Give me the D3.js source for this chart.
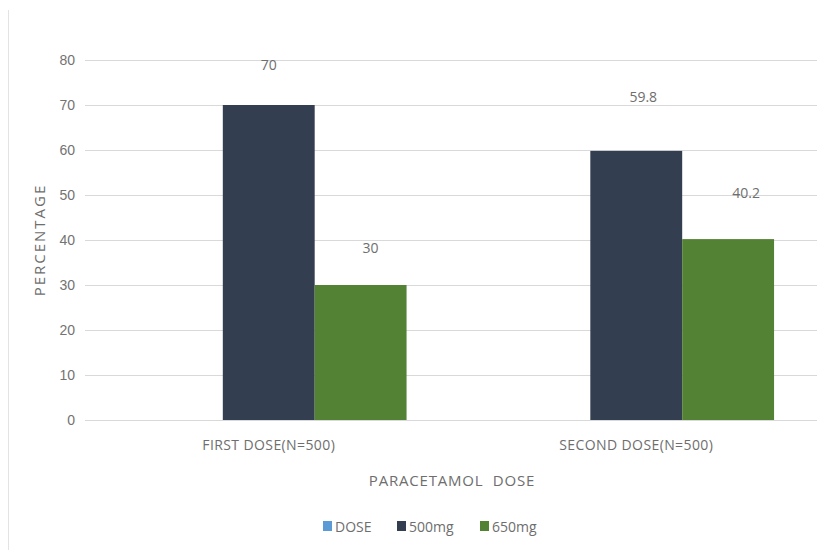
<!DOCTYPE html>
<html>
<head>
<meta charset="utf-8">
<script src="https://cdn.jsdelivr.net/npm/d3@7"></script>
<style>
    body { margin: 0; background: #fff; }
    svg { display: block; font-family: 'Open Sans', sans-serif; }
    .tick text { fill: #737373; font-size: 14px; }
    .grid line { stroke: #d9d9d9; stroke-width: 1; }
    .grid path { display: none; }
    .axisText { fill: #6e6e6e; }
</style>
</head>
<body>
<script>
'use strict';

// chart values
const categories = ['FIRST DOSE(N=500)', 'SECOND DOSE(N=500)'];
const seriesNames = ['DOSE', '500mg', '650mg'];
const dose = [0, 0];            // empty series, only shows in the legend
const dose500 = [70, 59.8];
const dose650 = [30, 40.2];
const yTicks = [0, 10, 20, 30, 40, 50, 60, 70, 80];

const colors = { 'DOSE': '#5b9bd5', '500mg': '#333f50', '650mg': '#548235' };

// label nudges (excel placed these by hand), [dx, dy] from bar top centre
const labelShift = {
    '500mg': [[0, -40], [7, -54]],
    '650mg': [[10, -37], [18, -46]]
};

function draw() {
    const width = 817, height = 550;
    const plot = { left: 85, right: 820, top: 60, bottom: 420 };

    const svg = d3.select('body').append('svg')
        .attr('width', width)
        .attr('height', height);

    // faint frame edge on the left
    svg.append('line')
        .attr('x1', 8.5).attr('x2', 8.5)
        .attr('y1', 10).attr('y2', height)
        .attr('stroke', '#e3e3e3');

    const x0 = d3.scaleBand()
        .domain(categories)
        .range([plot.left, plot.right]);
    const x1 = d3.scaleBand()
        .domain(seriesNames)
        .range([0, x0.bandwidth()])
        .paddingOuter(0.5);
    const y = d3.scaleLinear()
        .domain([0, 80])
        .range([plot.bottom, plot.top]);

    // gridlines + tick labels
    const grid = svg.append('g')
        .attr('class', 'grid')
        .attr('transform', 'translate(' + plot.left + ',0)')
        .call(d3.axisLeft(y).tickValues(yTicks).tickSize(-(plot.right - plot.left)));
    grid.selectAll('.tick text').attr('x', -10);

    const rows = seriesNames.map((name, i) => ({
        name: name,
        values: [dose, dose500, dose650][i]
    }));

    const groups = svg.append('g').attr('class', 'bars')
        .selectAll('g')
        .data(rows)
        .enter()
        .append('g')
        .attr('fill', (d) => colors[d.name]);

    groups.selectAll('rect')
        .data((d) => d.values.map((v, i) => ({ name: d.name, cat: categories[i], value: v })))
        .enter()
        .append('rect')
        .attr('x', (d) => x0(d.cat) + x1(d.name))
        .attr('y', (d) => y(d.value))
        .attr('width', x1.bandwidth())
        .attr('height', (d) => y(0) - y(d.value));

    // value labels
    const labelRows = rows.filter((r) => labelShift[r.name]);
    labelRows.forEach((r) => {
        svg.append('g')
            .selectAll('text')
            .data(r.values)
            .enter()
            .append('text')
            .attr('class', 'axisText')
            .attr('text-anchor', 'middle')
            .attr('font-size', 14)
            .attr('x', (v, i) => x0(categories[i]) + x1(r.name) + x1.bandwidth() / 2 + labelShift[r.name][i][0])
            .attr('y', (v, i) => y(v) + labelShift[r.name][i][1] + 5)
            .text((v) => v);
    });

    // category labels
    svg.append('g')
        .selectAll('text')
        .data(categories)
        .enter()
        .append('text')
        .attr('class', 'axisText')
        .attr('text-anchor', 'middle')
        .attr('font-size', 14)
        .attr('letter-spacing', 0.4)
        .attr('x', (d) => x0(d) + x0.bandwidth() / 2)
        .attr('y', 450)
        .text((d) => d);

    // axis titles
    svg.append('text')
        .attr('class', 'axisText')
        .attr('text-anchor', 'middle')
        .attr('font-size', 15)
        .attr('letter-spacing', 0.8)
        .attr('x', 452)
        .attr('y', 486)
        .style('white-space', 'pre')
        .text('PARACETAMOL  DOSE');

    svg.append('text')
        .attr('class', 'axisText')
        .attr('text-anchor', 'middle')
        .attr('font-size', 15)
        .attr('letter-spacing', 2)
        .attr('transform', 'translate(45,' + (plot.top + plot.bottom) / 2 + ') rotate(-90)')
        .text('PERCENTAGE');

    // legend
    const legendX = [323, 397, 480];
    const legend = svg.append('g')
        .selectAll('g')
        .data(seriesNames)
        .enter()
        .append('g')
        .attr('transform', (d, i) => 'translate(' + legendX[i] + ',521)');
    legend.append('rect')
        .attr('width', 9).attr('height', 10)
        .attr('fill', (d) => colors[d]);
    legend.append('text')
        .attr('class', 'axisText')
        .attr('font-size', 14)
        .attr('x', 12)
        .attr('y', 11)
        .text((d) => d);
}

window.onload = draw;
</script>
</body>
</html>
